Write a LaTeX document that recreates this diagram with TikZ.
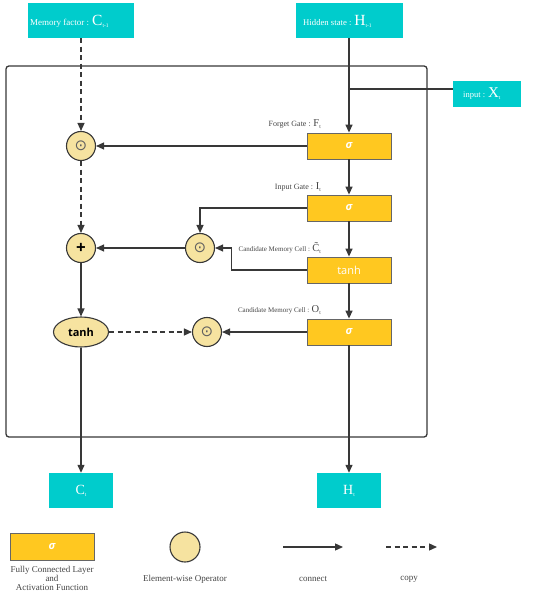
\documentclass[tikz,border=0pt]{standalone}
\usepackage{fontspec}
\setmainfont{Liberation Serif}
\newfontfamily\sansf{Open Sans}
\newfontfamily\symf{DejaVu Sans}
\usetikzlibrary{arrows.meta,shapes.geometric}
\definecolor{cyanc}{HTML}{00CCCC}
\definecolor{gatec}{HTML}{FFC820}
\definecolor{opc}{HTML}{F6E3A0}
\definecolor{linec}{HTML}{383838}
\definecolor{labc}{HTML}{444444}
\newcommand{\fs}[1]{\fontsize{#1}{#1}\selectfont}
\newcommand{\sbs}[1]{\raisebox{-2pt}{\fs{5.5}#1}}
\newcommand{\odotsym}{{\color{gray!75!black}\symf\fs{15}⊙}}
\begin{document}
\begin{tikzpicture}[x=1pt,y=-1pt,
  cyanbox/.style={fill=cyanc,draw=none,minimum width=#1,inner sep=0pt,text=white},
  gatebox/.style={fill=gatec,draw=gray!80!black,line width=0.8pt,minimum width=84pt,minimum height=26pt,inner sep=0pt,text=white},
  opnode/.style={circle,fill=opc,draw=linec,line width=1.1pt,minimum size=29pt,inner sep=0pt},
  lab/.style={inner sep=0pt,text=labc},
  conn/.style={draw=linec,line width=1.3pt},
  arr/.style={conn,-{Triangle[length=8pt,width=7pt]}},
  darr/.style={arr,dash pattern=on 5pt off 3.5pt},
  sig/.style={font=\sansf\itshape\bfseries\fs{11}}
]
\useasboundingbox (0,0) rectangle (550,593);
% frame
\node[draw=linec,line width=1.3pt,rounded corners=3pt,minimum width=421pt,minimum height=371pt,inner sep=0pt] (frame) at (216.5,251.5) {};
% top boxes
\node[cyanbox=106pt,minimum height=35pt] (mem) at (81,20.5) {};
\node[lab,text=white,anchor=west] (memt) at (30,21) {\fs{9}Memory factor : {\fs{15.5}C}\sbs{t-1}};
\node[cyanbox=107pt,minimum height=35pt] (hid) at (349,20.5) {};
\node[lab,text=white,anchor=west] (hidt) at (303,21) {\fs{8.7}Hidden state : {\fs{15.5}H}\sbs{t-1}};
\node[cyanbox=68pt,minimum height=26pt] (inp) at (487,94) {};
\node[lab,text=white,anchor=west] (inpt) at (463,94) {\fs{8.5}input : {\fs{15}X}\sbs{t}};
% bottom outputs
\node[cyanbox=64pt,minimum height=35pt] (ct) at (81,490.5) {\fs{14}C\sbs{t}};
\node[cyanbox=64pt,minimum height=35pt] (ht) at (349,490.5) {\fs{14}H\sbs{t}};
% gates
\node[gatebox,sig] (fg) at (349,146) {σ};
\node[gatebox,sig] (ig) at (349,208) {σ};
\node[gatebox,font=\sansf\fs{11}] (cg) at (349,270) {tanh};
\node[gatebox,sig] (og) at (349,332) {σ};
% gate labels
\node[lab,anchor=east] (fgl) at (321,124) {\fs{8}Forget Gate : {\fs{10.5}F}\sbs{t}};
\node[lab,anchor=east] (igl) at (321,187) {\fs{8}Input Gate : {\fs{10.5}I}\sbs{t}};
\node[lab,anchor=east] (cgl) at (321,248) {\fs{7}Candidate Memory Cell : {\fs{10.5}C̃}\sbs{t}};
\node[lab,anchor=east] (ogl) at (321,310) {\fs{7}Candidate Memory Cell : {\fs{10.5}O}\sbs{t}};
% operators
\node[opnode] (m1) at (81,146) {\odotsym};
\node[opnode] (pl) at (81,248) {\sansf\bfseries\fs{17}+};
\node[opnode] (m2) at (200,248) {\odotsym};
\node[opnode] (m3) at (207,332) {\odotsym};
\node[ellipse,fill=opc,draw=linec,line width=1.1pt,minimum width=55pt,minimum height=30pt,inner sep=0pt,font=\sansf\bfseries\fs{11}] (th) at (81,332) {tanh};
% connectors
\draw[darr] (mem) -- (m1);
\draw[darr] (m1) -- (pl);
\draw[arr] (pl) -- (th);
\draw[arr] (th) -- (ct);
\draw[arr] (hid) -- (fg);
\coordinate (jn) at (349,89);
\draw[conn] (jn -| inp.west) -- (jn);
\draw[arr] (fg) -- (ig);
\draw[arr] (ig) -- (cg);
\draw[arr] (cg) -- (og);
\draw[arr] (og) -- (ht);
\draw[arr] (fg) -- (m1);
\draw[arr] (ig.west) -| (m2.north);
\draw[arr] (cg.west) -- ++(-75,0) |- (m2.east);
\draw[arr] (m2) -- (pl);
\draw[arr] (og) -- (m3);
\draw[darr] (th) -- (m3);
% legend
\node[gatebox,sig,minimum width=84pt,minimum height=27pt] (lg1) at (52,546.5) {σ};
\node[lab,align=center,anchor=north,text=labc] (lg1t) at (52,566) {\fs{9}Fully Connected Layer\\[-3pt]\fs{9}and\\[-3pt]\fs{9}Activation Function};
\node[opnode,minimum size=30pt] (lg2) at (185,547) {};
\node[lab] (lg2t) at (185,579) {\fs{9}Element-wise Operator};
\coordinate (ca) at (283,547);
\coordinate (cb) at (343,547);
\draw[arr] (ca) -- (cb);
\node[lab] (lg3t) at (313,579) {\fs{9}connect};
\coordinate (da) at (386,547);
\coordinate (db) at (437,547);
\draw[darr] (da) -- (db);
\node[lab] (lg4t) at (409,579) {\fs{9}copy};
\end{tikzpicture}
\end{document}
